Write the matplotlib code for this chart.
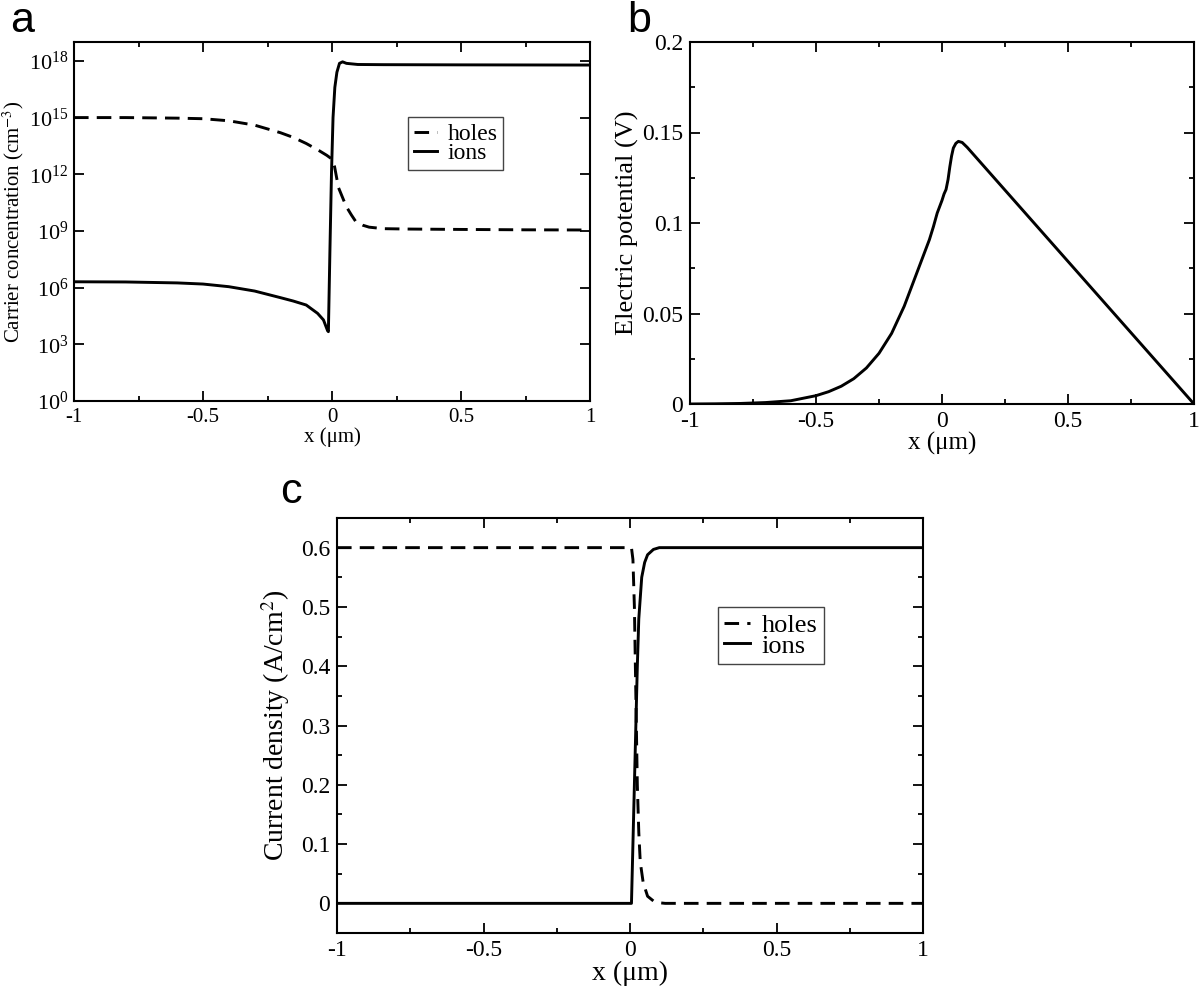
import matplotlib
matplotlib.use("Agg")
import matplotlib.pyplot as plt
from matplotlib.ticker import MultipleLocator, NullLocator, FixedLocator
import numpy as np

plt.rcParams["font.family"] = ["Liberation Serif", "DejaVu Serif"]
plt.rcParams["mathtext.fontset"] = "stix"

# panel a: carrier concentration, log10 of cm^-3
xa_holes = [-1, -0.8, -0.6, -0.5, -0.4, -0.3, -0.2, -0.15, -0.1, -0.05, -0.02, 0.0,
            0.01, 0.025, 0.04, 0.055, 0.075, 0.092, 0.12, 0.144, 0.2, 0.3, 0.5, 0.75, 1]
holes_exp = [15.0, 15.0, 14.97, 14.94, 14.83, 14.6, 14.2, 13.95, 13.63, 13.25, 13.0, 12.8,
             12.4, 11.3, 10.8, 10.3, 9.85, 9.5, 9.3, 9.2, 9.12, 9.1, 9.08, 9.06, 9.05]

xa_ions = [-1, -0.8, -0.6, -0.5, -0.4, -0.3, -0.2, -0.15, -0.1, -0.056, -0.033, -0.023,
           -0.017, -0.014, -0.008, -0.002, 0.004, 0.011, 0.019, 0.029, 0.041, 0.056,
           0.1, 0.2, 0.5, 1]
ions_exp = [6.31, 6.3, 6.25, 6.19, 6.05, 5.82, 5.47, 5.29, 5.08, 4.64, 4.29, 3.93,
            3.72, 3.67, 8.0, 12.05, 15.0, 16.6, 17.4, 17.87, 17.95, 17.87,
            17.81, 17.8, 17.79, 17.78]

# panel b: electric potential (V)
xb = [-1, -0.9, -0.8, -0.7, -0.6, -0.5, -0.45, -0.4, -0.35, -0.3, -0.25, -0.2, -0.15,
      -0.1, -0.05, -0.034, -0.019, 0.0, 0.008, 0.016, 0.024, 0.031, 0.038, 0.045,
      0.055, 0.065, 0.08, 0.1, 1]
potential = [0, 0.0001, 0.0003, 0.0008, 0.0018, 0.0046, 0.0068, 0.0098, 0.014, 0.0199,
             0.028, 0.039, 0.054, 0.0724, 0.0908, 0.098, 0.1055, 0.1125, 0.116, 0.1185,
             0.124, 0.131, 0.137, 0.1414, 0.144, 0.1451, 0.1445, 0.1418, 0.0]

# panel c: current density (A/cm^2)
xc_holes = [-1, 0.005, 0.01, 0.015, 0.02, 0.025, 0.03, 0.035, 0.045, 0.06, 0.08, 0.1, 0.12, 1]
j_holes = [0.6, 0.6, 0.58, 0.5, 0.35, 0.2, 0.12, 0.07, 0.035, 0.012, 0.004, 0.001, 0.0, 0.0]
xc_ions = [-1, 0.005, 0.01, 0.015, 0.02, 0.025, 0.03, 0.04, 0.05, 0.06, 0.08, 0.1, 1]
j_ions = [0.0, 0.0, 0.1, 0.2, 0.3, 0.4, 0.48, 0.55, 0.575, 0.588, 0.597, 0.6, 0.6]

xticks = [-1, -0.5, 0, 0.5, 1]
xticklabels = ["-1", "-0.5", "0", "0.5", "1"]

W, H = 1200, 991
fig = plt.figure(figsize=(W / 100, H / 100), dpi=100)


def box(l, t, r, b):
    return [l / W, 1 - b / H, (r - l) / W, (b - t) / H]


def style(ax, fs):
    ax.tick_params(which="both", direction="in", top=True, right=True, width=1.3,
                   labelsize=fs, pad=5)
    ax.tick_params(which="major", length=7)
    ax.tick_params(which="minor", length=3.5)
    for s in ax.spines.values():
        s.set_linewidth(1.5)
    ax.set_xlim(-1, 1)
    ax.set_xticks(xticks)
    ax.set_xticklabels(xticklabels)
    ax.xaxis.set_minor_locator(MultipleLocator(0.25))


def add_legend(ax, fs, anchor):
    leg = ax.legend(loc="upper left", bbox_to_anchor=anchor, fontsize=fs,
                    fancybox=False, framealpha=1, edgecolor="#444444",
                    handlelength=0.95, borderpad=0.25, labelspacing=-0.1,
                    handletextpad=0.45, borderaxespad=0)
    leg.get_frame().set_linewidth(1.0)


dash = (0, (5, 2.8))
lw = 2.1

# --- a
ax = fig.add_axes(box(74, 42, 590, 401))
ax.plot(xa_holes, 10 ** np.array(holes_exp), color="black", lw=lw, ls=dash, label="holes")
ax.plot(xa_ions, 10 ** np.array(ions_exp), color="black", lw=lw, label="ions")
ax.set_yscale("log")
ax.set_ylim(1, 1e19)
style(ax, 15)
ax.yaxis.set_major_locator(FixedLocator([10.0 ** k for k in range(0, 19, 3)]))
ax.yaxis.set_minor_locator(NullLocator())
ax.tick_params(axis="y", labelsize=16, pad=4)
ax.set_ylabel(r"Carrier concentration (cm$^{-3}$)", fontsize=15)
ax.yaxis.set_label_coords(-0.093, 0.5)
ax.set_xlabel("x (μm)", fontsize=15, labelpad=0)
add_legend(ax, 17, (0.648, 0.79))

# --- b
ax = fig.add_axes(box(690, 42, 1194, 404))
ax.plot(xb, potential, color="black", lw=lw)
ax.set_ylim(0, 0.2)
style(ax, 17)
ax.set_yticks([0, 0.05, 0.1, 0.15, 0.2])
ax.set_yticklabels(["0", "0.05", "0.1", "0.15", "0.2"])
ax.yaxis.set_minor_locator(MultipleLocator(0.025))
ax.set_ylabel("Electric potential (V)", fontsize=19, labelpad=2)
ax.set_xlabel("x (μm)", fontsize=18, labelpad=0)

# --- c
ax = fig.add_axes(box(337, 518, 923, 933))
ax.plot(xc_holes, j_holes, color="black", lw=lw, ls=dash, label="holes")
ax.plot(xc_ions, j_ions, color="black", lw=lw, label="ions")
ax.set_ylim(-0.05, 0.65)
style(ax, 17)
ax.set_yticks([0, 0.1, 0.2, 0.3, 0.4, 0.5, 0.6])
ax.set_yticklabels(["0", "0.1", "0.2", "0.3", "0.4", "0.5", "0.6"])
ax.yaxis.set_minor_locator(MultipleLocator(0.05))
ax.set_ylabel(r"Current density (A/cm$^{2}$)", fontsize=20, labelpad=6)
ax.set_xlabel("x (μm)", fontsize=20, labelpad=0)
add_legend(ax, 19, (0.65, 0.786))

# panel letters
for lab, px, py in [("a", 10, 32), ("b", 627, 32), ("c", 280, 503)]:
    fig.text(px / W, 1 - py / H, lab, fontsize=31, family="Liberation Sans",
             ha="left", va="baseline")

fig.savefig("out.png", dpi=100)
